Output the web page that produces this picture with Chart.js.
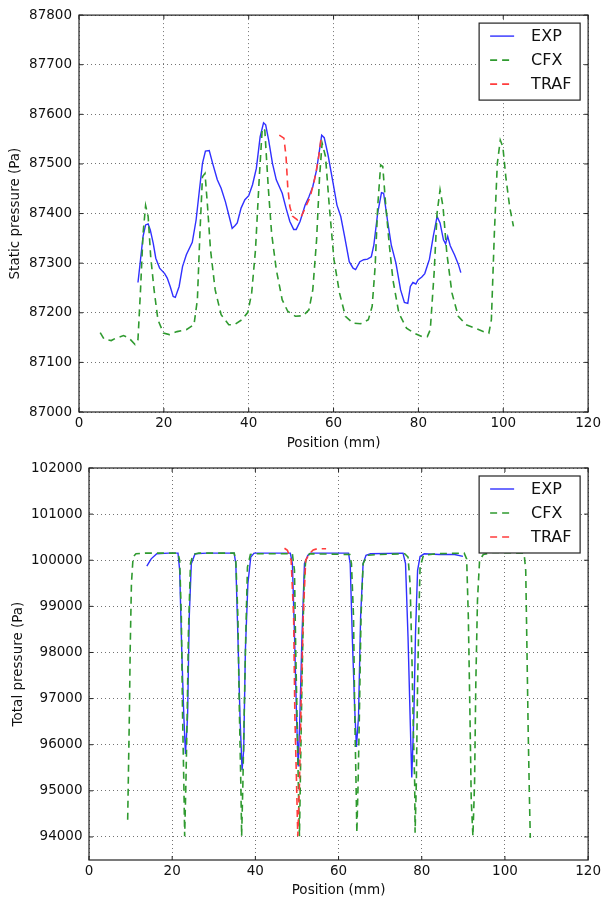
<!DOCTYPE html>
<html lang="en">
<head>
<meta charset="UTF-8">
<title>Static and total pressure</title>
<style>
  html,body{margin:0;padding:0;background:#fff;}
  #wrap{position:relative;width:604px;height:899px;overflow:hidden;}
  canvas{position:absolute;left:0;}
  #c1{top:0}
  #c2{top:450px}
</style>
</head>
<body>
<div id="wrap">
  <canvas id="c1" width="604" height="460"></canvas>
  <canvas id="c2" width="604" height="449"></canvas>
</div>
<script src="https://cdn.jsdelivr.net/npm/chart.js"></script>
<script>
// tick labels
const xTicks = [0, 20, 40, 60, 80, 100, 120]
const staticTicks = [87000, 87100, 87200, 87300, 87400, 87500, 87600, 87700, 87800]
const totalTicks = [94000, 95000, 96000, 97000, 98000, 99000, 100000, 101000, 102000]
const seriesNames = ['EXP', 'CFX', 'TRAF']

// static pressure (Pa) vs position (mm)
const expStaticX = [13.9,14.5,15.1,15.7,16.3,16.8,17.5,18.1,19.0,20.2,20.8,21.5,22.2,22.7,23.6,24.4,25.3,26.7,27.6,28.3,29.1,29.8,30.7,31.5,32.6,33.5,34.5,35.4,36.1,36.8,37.3,38.2,39.1,40.0,40.9,41.8,42.7,43.5,44.0,44.7,45.6,46.5,47.9,48.8,49.7,50.6,51.2,52.1,53.3,54.2,55.1,56.0,57.2,57.8,58.7,59.9,60.8,61.7,62.6,63.7,64.6,65.2,66.2,67.1,68.0,68.9,69.5,70.4,71.3,71.8,72.7,73.6,74.7,75.8,76.7,77.5,78.1,78.7,79.4,79.9,80.8,81.5,82.6,83.5,84.4,85.1,85.9,86.4,86.9,87.5,88.5,89.4,90.0]
const expStaticY = [87261,87307,87354,87377,87379,87367,87340,87310,87290,87279,87270,87253,87233,87231,87253,87293,87317,87342,87387,87441,87501,87526,87527,87501,87468,87451,87424,87394,87370,87376,87381,87411,87428,87436,87458,87491,87555,87583,87579,87548,87501,87468,87441,87411,87384,87368,87368,87384,87417,87434,87454,87488,87558,87553,87518,87461,87417,87394,87354,87303,87290,87287,87303,87307,87308,87313,87337,87401,87442,87441,87387,87337,87300,87246,87221,87219,87253,87261,87258,87266,87272,87279,87308,87354,87394,87381,87347,87339,87354,87335,87317,87298,87281]
const cfxStaticX = [5.0,5.9,7.6,8.7,10.5,11.8,13.2,13.9,14.5,15.1,15.7,16.3,16.9,17.7,18.6,19.9,21.3,23.1,25.3,27.1,27.9,28.5,29.1,29.7,30.3,31.0,32.1,33.5,35.3,36.6,38.4,39.8,40.7,41.6,42.5,43.2,43.8,44.6,45.4,46.5,47.9,49.2,51.0,52.8,54.2,55.1,56.0,56.7,57.3,58.1,59.0,60.1,61.4,62.8,64.6,66.4,68.2,69.1,69.8,70.4,71.1,71.6,72.2,73.1,74.0,75.4,77.2,79.0,80.8,82.1,82.8,83.7,84.4,85.1,85.8,86.7,87.9,89.4,91.2,93.4,95.4,96.6,97.2,97.9,98.6,99.3,99.9,100.6,101.5,102.4]
const cfxStaticY = [87160,87147,87144,87149,87154,87149,87136,87146,87246,87360,87416,87394,87313,87246,87186,87159,87156,87162,87166,87176,87226,87360,87474,87481,87414,87327,87246,87196,87176,87176,87186,87201,87240,87327,87474,87572,87568,87454,87360,87287,87226,87203,87193,87194,87206,87246,87347,87474,87542,87515,87414,87307,87240,87193,87179,87178,87186,87213,87293,87414,87498,87495,87427,87340,87266,87199,87169,87159,87152,87152,87166,87280,87401,87448,87414,87320,87240,87193,87176,87169,87162,87159,87186,87360,87501,87548,87535,87474,87414,87374]
const trafStaticX = [47.2,48.3,48.8,49.2,49.7,50.3,51.5,52.4,53.3,54.5,55.5,56.4,57.1]
const trafStaticY = [87558,87552,87515,87454,87414,87395,87387,87394,87411,87434,87468,87508,87555]

// total pressure (Pa) vs position (mm)
const expTotalX = [13.9,14.95,16.3,19.1,21.4,21.8,22.3,22.8,23.2,23.7,24.1,24.6,25.5,28.3,34.9,35.3,35.8,36.3,36.8,37.2,37.6,38.2,38.9,39.7,48.4,48.9,49.4,49.9,50.3,50.7,51.2,51.8,52.6,53.2,62.4,62.8,63.3,63.9,64.3,64.8,65.3,65.9,66.6,67.7,75.5,76.1,76.7,77.2,77.6,78.1,78.5,79.0,79.6,80.6,84.2,87.9,89.9]
const expTotalY = [99870,100030,100140,100155,100155,99780,98050,96610,95800,96610,98770,99925,100140,100155,100155,99925,98340,96610,95450,95890,98050,99490,100070,100155,100155,99925,98410,96610,95530,96610,98340,99925,100105,100155,100155,99925,98340,96750,95950,96610,98770,99925,100105,100140,100155,99925,98340,96610,95290,96610,98410,99780,100085,100140,100125,100125,100085]
const cfxTotalX = [9.3,9.7,9.9,10.2,10.6,11.3,13.6,21.4,21.8,22.2,22.5,22.8,23.0,23.3,23.6,23.9,24.4,25.0,26.4,34.9,35.3,35.8,36.1,36.5,36.7,37.0,37.3,37.7,38.1,38.8,40.2,48.9,49.4,49.7,50.1,50.4,50.6,50.8,51.2,51.7,52.1,53.0,62.7,63.1,63.6,63.9,64.2,64.4,64.7,65.0,65.4,65.9,66.8,69.5,75.9,76.7,77.2,77.6,78.0,78.3,78.4,78.7,79.0,79.4,79.6,80.4,83.3,90.2,90.8,91.2,91.6,91.9,92.3,92.7,93.0,93.4,93.9,94.8,97.1,104.6,105.0,105.3,105.6,105.9,106.1]
const cfxTotalY = [94375,96610,98050,99490,100070,100140,100155,100155,99995,98770,96610,95170,94015,95170,96610,98410,99925,100125,100155,100155,99995,98770,96970,95170,94015,95170,96610,98410,99850,100125,100140,100140,99780,98050,96250,94810,94015,95170,97330,99490,99995,100140,100125,99925,98770,96610,95170,94090,95170,96610,98770,99925,100105,100125,100140,100070,99490,98050,96250,95170,94090,95170,97330,99130,99850,100105,100140,100155,100030,98770,96610,94810,94015,95170,97330,99130,99995,100125,100170,100155,99780,98050,96250,94810,93980]
const trafTotalX = [47.0,47.7,48.6,49.2,49.5,49.9,50.2,50.6,51.0,51.5,52.1,53.0,53.9,54.9,57.0]
const trafTotalY = [100260,100215,100000,98770,96610,95170,94015,95170,96970,98770,100000,100140,100225,100250,100250]

Chart.defaults.font.family = '"DejaVu Sans", sans-serif'
Chart.defaults.color = '#111'

function pts(xs, ys) {
  const out = []
  for (let i = 0; i < Math.min(xs.length, ys.length); i++) out.push({x: xs[i], y: ys[i]})
  return out
}

const lineStyles = [
  {borderColor: '#3030ff', borderWidth: 1.4, borderDash: [], order: 3},
  {borderColor: '#2f9a2f', borderWidth: 1.6, borderDash: [7, 5], order: 2},
  {borderColor: '#ff3c3c', borderWidth: 1.6, borderDash: [7, 5], order: 1}
]

function makeSets(series) {
  return series.map((d, i) => Object.assign({
    label: seriesNames[i],
    data: d,
    pointRadius: 0,
    tension: 0,
    fill: false
  }, lineStyles[i]))
}

// matplotlib style frame with inward ticks
const frame = {
  id: 'frame',
  afterDatasetsDraw(chart) {
    const {ctx, chartArea: a, scales: {x, y}} = chart
    ctx.save()
    ctx.strokeStyle = '#222'
    ctx.lineWidth = 1.2
    ctx.strokeRect(a.left, a.top, a.right - a.left, a.bottom - a.top)
    ctx.lineWidth = 1
    ctx.beginPath()
    x.ticks.forEach(t => {
      const p = x.getPixelForValue(t.value)
      ctx.moveTo(p, a.bottom); ctx.lineTo(p, a.bottom - 4)
      ctx.moveTo(p, a.top); ctx.lineTo(p, a.top + 4)
    })
    y.ticks.forEach(t => {
      const p = y.getPixelForValue(t.value)
      ctx.moveTo(a.left, p); ctx.lineTo(a.left + 4, p)
      ctx.moveTo(a.right, p); ctx.lineTo(a.right - 4, p)
    })
    ctx.stroke()
    ctx.restore()
  }
}

// boxed legend in the upper right corner
const boxLegend = {
  id: 'boxLegend',
  afterDraw(chart) {
    const {ctx, chartArea: a} = chart
    const w = 101, h = 77
    const bx = a.right - 8 - w, by = a.top + 8
    ctx.save()
    ctx.fillStyle = '#fff'
    ctx.fillRect(bx, by, w, h)
    ctx.strokeStyle = '#222'
    ctx.lineWidth = 1.2
    ctx.strokeRect(bx, by, w, h)
    ctx.font = '16px "DejaVu Sans"'
    ctx.textBaseline = 'middle'
    chart.data.datasets.forEach((ds, i) => {
      const yy = by + 13 + i * 24
      ctx.strokeStyle = ds.borderColor
      ctx.lineWidth = ds.borderWidth
      ctx.setLineDash(ds.borderDash)
      ctx.beginPath()
      ctx.moveTo(bx + 11, yy)
      ctx.lineTo(bx + 35, yy)
      ctx.stroke()
      ctx.setLineDash([])
      ctx.fillStyle = '#111'
      ctx.fillText(ds.label, bx + 52, yy + 1)
    })
    ctx.restore()
  }
}

function axisOpts(ticksList, extra) {
  return Object.assign({
    type: 'linear',
    afterBuildTicks: s => { s.ticks = ticksList.map(v => ({value: v})) },
    grid: {color: 'rgba(0,0,0,0.55)', lineWidth: 1, drawTicks: false},
    border: {display: false, dash: [1, 3]}
  }, extra)
}

function makeChart(id, series, yTicks, o) {
  return new Chart(document.getElementById(id), {
    type: 'line',
    data: {datasets: makeSets(series)},
    options: {
      responsive: false,
      animation: false,
      events: [],
      layout: {padding: {left: 0, right: o.right, top: o.top, bottom: 0}},
      plugins: {legend: {display: false}, tooltip: {enabled: false}},
      scales: {
        x: axisOpts(xTicks, {
          min: 0, max: 120,
          afterFit: s => { s.height = o.xh },
          ticks: {padding: 3, maxRotation: 0, font: {size: 13.5}, callback: v => String(v)},
          title: {display: true, text: 'Position (mm)', font: {size: 13.5}, padding: {top: 0, bottom: o.xtp}}
        }),
        y: axisOpts(yTicks, {
          min: o.ymin, max: o.ymax,
          afterFit: s => { s.width = o.yw },
          ticks: {padding: o.ytp, font: {size: 13.5}, callback: v => String(v)},
          title: {display: true, text: o.ylabel, font: {size: 13.5}, padding: {top: o.ttp, bottom: 0}}
        })
      }
    },
    plugins: [frame, boxLegend]
  })
}

makeChart('c1', [pts(expStaticX, expStaticY), pts(cfxStaticX, cfxStaticY), pts(trafStaticX, trafStaticY)], staticTicks,
  {ymin: 87000, ymax: 87800, right: 13, top: 15, xh: 48, xtp: 8.9, yw: 79, ytp: 7, ttp: 7, ylabel: 'Static pressure (Pa)'})

makeChart('c2', [pts(expTotalX, expTotalY), pts(cfxTotalX, cfxTotalY), pts(trafTotalX, trafTotalY)], totalTicks,
  {ymin: 93500, ymax: 102000, right: 11, top: 18, xh: 39, xtp: 0.2, yw: 89, ytp: 6.5, ttp: 10.4, ylabel: 'Total pressure (Pa)'})
</script>
</body>
</html>
